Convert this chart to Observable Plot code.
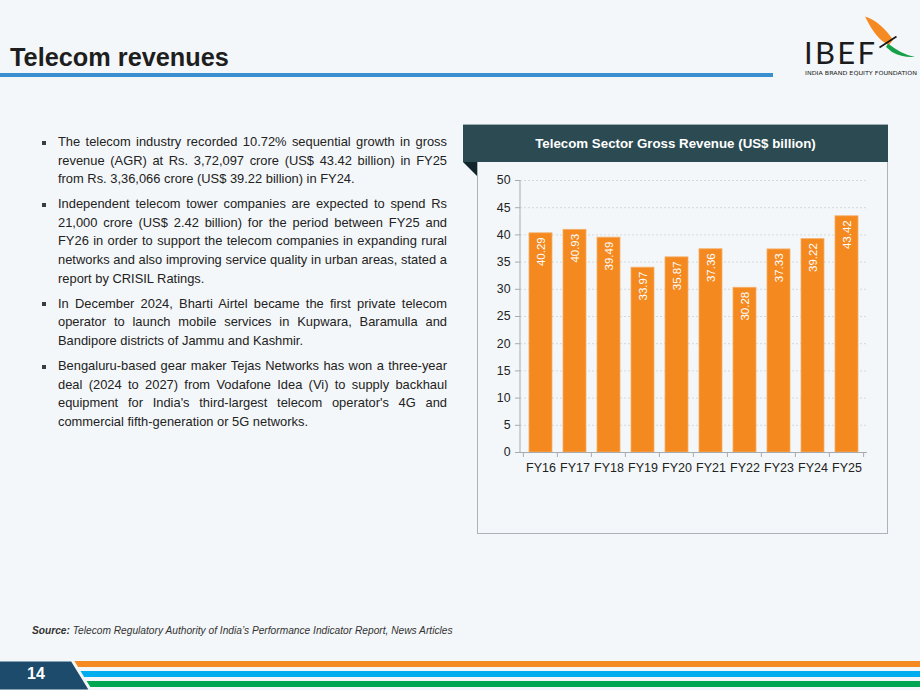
<!DOCTYPE html>
<html>
<head>
<meta charset="utf-8">
<script src="https://cdn.jsdelivr.net/npm/d3@7"></script>
<script src="https://cdn.jsdelivr.net/npm/@observablehq/plot@0.6"></script>
<style>
  html, body { margin: 0; padding: 0; }
  #slide {
    position: relative; width: 920px; height: 690px; overflow: hidden;
    background: #f4f7f9; font-family: "Liberation Sans", Arial, sans-serif; color: #222;
  }
  .abs { position: absolute; }
  #title { left: 10px; top: 45px; font-size: 25.3px; line-height: 25px; font-weight: bold; color: #1e1e1e; white-space: nowrap; }
  #rule { left: 0; top: 73px; width: 773px; height: 4px; background: #3a8fd0; }
  #bullets { left: 42px; top: 133px; width: 405px; margin: 0; padding: 0; list-style: none; font-size: 12.9px; line-height: 18.6px; }
  #bullets li { position: relative; padding-left: 16px; text-align: justify; margin-bottom: 6.5px; }
  #bullets li::before { content: ""; position: absolute; left: 0; top: 7.5px; width: 4px; height: 4px; background: #3c3c3c; }
  #panel { left: 477px; top: 162px; width: 409px; height: 371px; border: 1px solid #aab4b9; border-top: none; }
  #panelHead { left: 463px; top: 124px; width: 425px; height: 38px; background: #2b4a52; color: #fff;
    font-weight: bold; font-size: 13.3px; line-height: 38px; text-align: center; border-top: 1px solid #9fb0b5; box-sizing: border-box; }
  #chart { left: 477px; top: 162px; }
  #source { left: 32px; top: 625px; font-size: 10.2px; font-style: italic; color: #333; white-space: nowrap; }
  #pageNo { left: 27px; top: 664px; font-size: 16px; line-height: 20px; font-weight: bold; color: #fff; }
</style>
</head>
<body>
<div id="slide">
  <div id="title" class="abs">Telecom revenues</div>
  <div id="rule" class="abs"></div>

  <svg class="abs" style="left:790px;top:10px" width="130" height="70" viewBox="790 10 130 70">
    <path d="M865,16.5 C876,20 886,29 893,40 L889,45 C881,42 873,33 865,16.5 Z" fill="#f58a22"/>
    <path d="M888,43.5 C896,50 905,55 915,57 C906,57.5 899,56 892,52 L886,47 Z" fill="#16a04a"/>
    <line x1="879.5" y1="47.5" x2="896.5" y2="36.5" stroke="#151515" stroke-width="1.6"/>
    <text x="804" y="63.5" font-family="Lato, 'DejaVu Sans', sans-serif" font-size="31" fill="#1b1b1b" textLength="71" lengthAdjust="spacing">IBEF</text>
    <text x="805" y="74.5" font-family="'DejaVu Sans', sans-serif" font-size="5.6" fill="#222" textLength="112" lengthAdjust="spacingAndGlyphs">INDIA BRAND EQUITY FOUNDATION</text>
  </svg>

  <ul id="bullets" class="abs">
    <li>The telecom industry recorded 10.72% sequential growth in gross revenue (AGR) at Rs. 3,72,097 crore (US$ 43.42 billion) in FY25 from Rs. 3,36,066 crore (US$ 39.22 billion) in FY24.</li>
    <li>Independent telecom tower companies are expected to spend Rs 21,000 crore (US$ 2.42 billion) for the period between FY25 and FY26 in order to support the telecom companies in expanding rural networks and also improving service quality in urban areas, stated a report by CRISIL Ratings.</li>
    <li>In December 2024, Bharti Airtel became the first private telecom operator to launch mobile services in Kupwara, Baramulla and Bandipore districts of Jammu and Kashmir.</li>
    <li>Bengaluru-based gear maker Tejas Networks has won a three-year deal (2024 to 2027) from Vodafone Idea (Vi) to supply backhaul equipment for India's third-largest telecom operator's 4G and commercial fifth-generation or 5G networks.</li>
  </ul>

  <div id="panel" class="abs"></div>
  <div id="panelHead" class="abs">Telecom Sector Gross Revenue (US$ billion)</div>
  <svg class="abs" style="left:463px;top:162px" width="14" height="14"><polygon points="0,0 14,0 14,14" fill="#10262c"/></svg>
  <div id="chart" class="abs"></div>

  <div id="source" class="abs"><b>Source:</b> Telecom Regulatory Authority of India’s Performance Indicator Report, News Articles</div>

  <svg class="abs" style="left:0;top:655px" width="920" height="35">
    <rect x="60" y="6" width="860" height="6" fill="#f58a22"/>
    <rect x="60" y="16" width="860" height="6" fill="#00aeef"/>
    <rect x="60" y="26" width="860" height="6" fill="#00a651"/>
    <polygon points="-5,5 72,5 91,36 -5,36" fill="#1c4b6c" stroke="#f4f7f9" stroke-width="3"/>
  </svg>
  <div id="pageNo" class="abs">14</div>
</div>

<script>
// Gross revenue of the telecom sector, US$ billion
const years = ["FY16", "FY17", "FY18", "FY19", "FY20", "FY21", "FY22", "FY23", "FY24", "FY25"];
const revenue = [40.29, 40.93, 39.49, 33.97, 35.87, 37.36, 30.28, 37.33, 39.22, 43.42];
const yTicks = [0, 5, 10, 15, 20, 25, 30, 35, 40, 45, 50];

const rows = years.map((year, i) => ({year, value: revenue[i]}));
const axisColor = "#a6abaf";

const chart = Plot.plot({
  width: 411,
  height: 330,
  marginTop: 18,
  marginBottom: 40,
  marginLeft: 43,
  marginRight: 21,
  style: {background: "transparent", fontFamily: "'Liberation Sans', Arial, sans-serif", color: "#222"},
  x: {domain: years, paddingInner: 0.33, paddingOuter: 0.165},
  y: {domain: [0, 50]},
  marks: [
    Plot.gridY(yTicks.filter(t => t > 0), {stroke: "#d3d9dc", strokeOpacity: 1, strokeDasharray: "2,2"}),
    Plot.barY(rows, {x: "year", y: "value", fill: "#f4891f", stroke: "#f6ae68", strokeWidth: 0.8}),
    Plot.text(rows, {
      x: "year", y: "value", text: d => d.value.toFixed(2),
      rotate: -90, textAnchor: "end", dy: 4, fill: "#fff", fontSize: 11.5
    }),
    Plot.ruleY([0], {stroke: axisColor}),
    Plot.axisY({ticks: yTicks, tickSize: 5, tickPadding: 5, stroke: axisColor, fill: "#222", fontSize: 12.3, label: null}),
    Plot.axisX({tickSize: 0, tickPadding: 11, fill: "#222", fontSize: 12.5, label: null})
  ]
});

// Axis line on the left and tick marks on the category boundaries
const sx = chart.scale("x");
const sy = chart.scale("y");
const svg = d3.select(chart.tagName.toLowerCase() === "svg" ? chart : chart.querySelector("svg"));
const x0 = sx.range[0];
const y0 = sy.apply(0);
const g = svg.append("g").attr("stroke", axisColor);
g.append("line").attr("x1", x0).attr("x2", x0).attr("y1", sy.apply(50)).attr("y2", y0);
d3.range(years.length + 1).forEach(i => {
  const bx = i < years.length ? sx.apply(years[i]) - sx.step * 0.165 : sx.apply(years[i - 1]) + sx.bandwidth + sx.step * 0.165;
  g.append("line").attr("x1", bx).attr("x2", bx).attr("y1", y0).attr("y2", y0 + 5);
});

document.getElementById("chart").appendChild(chart);
</script>
</body>
</html>
